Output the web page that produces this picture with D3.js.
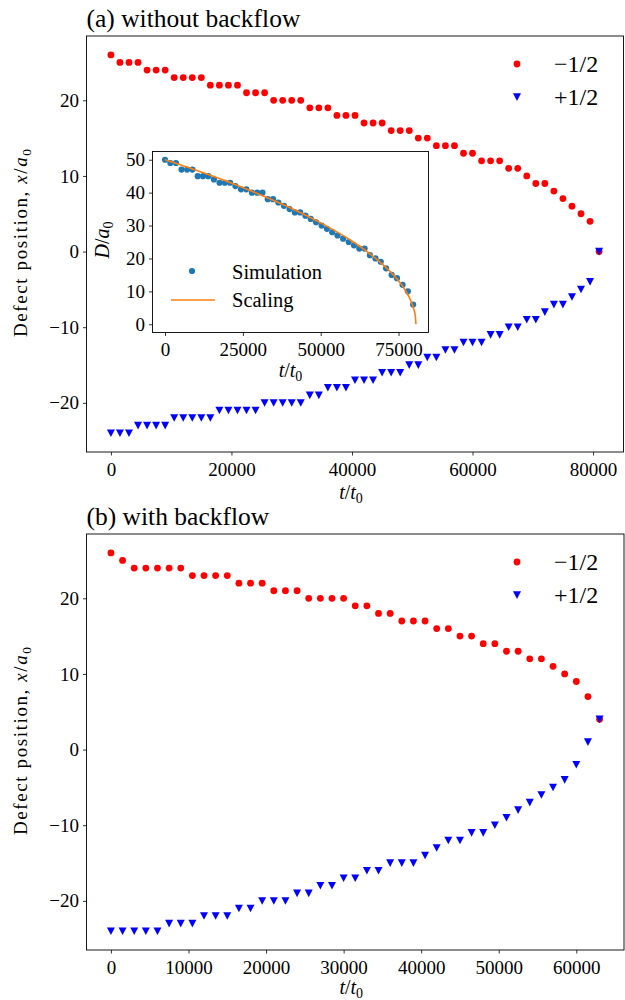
<!DOCTYPE html>
<html><head><meta charset="utf-8">
<script src="https://cdn.jsdelivr.net/npm/d3@7"></script>
<style>
body{margin:0;background:#fff;}
text{font-family:"Liberation Serif","DejaVu Serif",serif;fill:#000;}
</style>
</head><body>
<svg id="c" width="625" height="1000"></svg>
<script>
// ---------- data ----------
const timeA = [0,1500,3000,4500,6000,7500,9000,10500,12000,13500,15000,16500,18000,19500,21000,22500,24000,25500,27000,28500,30000,31500,33000,34500,36000,37500,39000,40500,42000,43500,45000,46500,48000,49500,51000,52500,54000,55500,57000,58500,60000,61500,63000,64500,66000,67500,69000,70500,72000,73500,75000,76500,78000,79500,81000];
const minusA = [26,25,25,25,24,24,24,23,23,23,23,22,22,22,22,21,21,21,20,20,20,20,19,19,19,18,18,18,17,17,17,16,16,16,15,15,14,14,14,13,13,12,12,12,11,11,10,9,9,8,7,6,5,4,0];
const plusA = [-24,-24,-24,-23,-23,-23,-23,-22,-22,-22,-22,-22,-21,-21,-21,-21,-21,-20,-20,-20,-20,-20,-19,-19,-18,-18,-18,-17,-17,-17,-16,-16,-16,-15,-15,-14,-14,-13,-13,-12,-12,-12,-11,-11,-10,-10,-9,-9,-8,-7,-7,-6,-5,-4,0];

const timeB = [0,1500,3000,4500,6000,7500,9000,10500,12000,13500,15000,16500,18000,19500,21000,22500,24000,25500,27000,28500,30000,31500,33000,34500,36000,37500,39000,40500,42000,43500,45000,46500,48000,49500,51000,52500,54000,55500,57000,58500,60000,61500,63000];
const minusB = [26,25,24,24,24,24,24,23,23,23,23,22,22,22,21,21,21,20,20,20,20,19,19,18,18,17,17,17,16,16,15,15,14,14,13,13,12,12,11,10,9,7,4];
const plusB = [-24,-24,-24,-24,-24,-23,-23,-23,-22,-22,-22,-21,-21,-20,-20,-20,-19,-19,-18,-18,-17,-17,-16,-16,-15,-15,-15,-14,-13,-12,-12,-11,-11,-10,-9,-8,-7,-6,-5,-4,-2,1,4];

const simTime = [0,1700,3500,5300,7100,8800,10500,12200,13900,15700,17500,19200,20900,22600,24400,26100,27900,29600,31300,33000,34700,36400,38200,40000,41700,43400,45100,46800,48500,50300,52000,53700,55400,57200,59000,60700,62400,64100,65800,67600,69300,71000,72800,74500,76300,78000,79700];
const simD = [50,49,49,47,47,47,45,45,45,44,43,43,43,42,41,41,40,40,40,38,38,37,36,35,34,34,33,32,31,30,29,28,27,26,25,24,23,23,21,20,19,17,15,14,12,10,6];
const scaleTime = [0,10000,20000,30000,40000,50000,60000,65000,70000,74000,77000,79000,80000,80400,80600];
const scaleD = [50,46.8,43.4,39.6,35.5,30.8,25.3,22.0,18.1,14.3,10.6,7.0,4.3,2.5,0];

const yTicks = [-20,-10,0,10,20];
const xTicksA = [0,20000,40000,60000,80000];
const xTicksB = [0,10000,20000,30000,40000,50000,60000];
const insetXTicks = [0,25000,50000,75000];
const insetYTicks = [0,10,20,30,40,50];
const legendLabels = ["\u22121/2","+1/2"];
const insetLegend = ["Simulation","Scaling"];

// ---------- drawing ----------
const svg = d3.select("#c");
const RED = "#ff0000", BLUE = "#0000ff", C0 = "#1f77b4", C1 = "#ff7f0e";
const TICKFS = 19;
const fmt = d3.format("d");

function tri(g, x, y, fill){
  g.append("path").attr("transform",`translate(${x},${y})`)
    .attr("d","M-4,-3.7L4,-3.7L0,3.9Z").attr("fill",fill);
}

function mathLabel(g, parts, x, y, size, rotate, len){
  const t = g.append("text").attr("x",x).attr("y",y).attr("text-anchor","middle")
    .attr("font-size",size);
  if (rotate) t.attr("transform",`rotate(-90,${x},${y})`);
  if (len) t.attr("textLength",len).attr("lengthAdjust","spacing");
  parts.forEach(p=>{
    const s = t.append("tspan").text(p.t);
    if (p.i) s.attr("font-style","italic");
    if (p.sub) s.attr("font-size",size*0.7).attr("dy",size*0.22);
  });
  return t;
}

function styleAxis(a){
  a.select(".domain").remove();
  a.selectAll("line").attr("stroke","#000").attr("stroke-width",0.8);
  a.selectAll("text").attr("font-size",TICKFS).attr("font-family","Liberation Serif");
}

function panel(opts){
  const g = svg.append("g");
  const x = d3.scaleLinear().domain(opts.xd).range(opts.xr);
  const y = d3.scaleLinear().domain([-26.5,28.5]).range(opts.yr);
  const xa = g.append("g").attr("transform",`translate(0,${opts.yr[0]})`)
    .call(d3.axisBottom(x).tickValues(opts.xt).tickFormat(fmt).tickSizeOuter(0).tickSize(3.5).tickPadding(3));
  const ya = g.append("g").attr("transform",`translate(${opts.xr[0]},0)`)
    .call(d3.axisLeft(y).tickValues(yTicks).tickFormat(d=>d<0?"\u2212"+Math.abs(d):d).tickSizeOuter(0).tickSize(3.5).tickPadding(4));
  styleAxis(xa); styleAxis(ya);
  xa.selectAll("text").attr("dy","0.9em");
  g.append("rect").attr("x",opts.xr[0]).attr("y",opts.yr[1])
    .attr("width",opts.xr[1]-opts.xr[0]).attr("height",opts.yr[0]-opts.yr[1])
    .attr("fill","none").attr("stroke","#000").attr("stroke-width",0.9);
  g.append("text").attr("x",opts.xr[0]).attr("y",opts.yr[1]-9).attr("font-size",25.5).text(opts.title);
  mathLabel(g,[{t:"t",i:1},{t:"/"},{t:"t",i:1},{t:"0",sub:1}],(opts.xr[0]+opts.xr[1])/2 - 4,opts.yr[0]+opts.xlo,20);
  mathLabel(g,[{t:"Defect position, "},{t:"x",i:1},{t:"/"},{t:"a",i:1},{t:"0",sub:1}],27,(opts.yr[0]+opts.yr[1])/2 - 1,19,true,188);
  const lg = g.append("g");
  lg.append("circle").attr("cx",517).attr("cy",opts.yr[1]+28).attr("r",3.4).attr("fill",RED);
  tri(lg,517,opts.yr[1]+61,BLUE);
  lg.append("text").attr("x",554).attr("y",opts.yr[1]+36).attr("font-size",24).text(legendLabels[0]);
  lg.append("text").attr("x",554).attr("y",opts.yr[1]+69).attr("font-size",24).text(legendLabels[1]);
  return {g,x,y};
}

function points(p, times, minus, plus){
  p.g.append("g").selectAll("circle").data(times).join("circle")
    .attr("cx",(d)=>p.x(d)).attr("cy",(d,i)=>p.y(minus[i])).attr("r",3.4).attr("fill",RED);
  const pg = p.g.append("g");
  times.forEach((t,i)=>tri(pg,p.x(t),p.y(plus[i]),BLUE));
}

// Panel (a)
const pa = panel({xd:[-4050,85050],xr:[86.5,623.5],yr:[452,36],xt:xTicksA,title:"(a) without backflow",xlo:47});
points(pa, timeA, minusA, plusA);

// Inset
(function(){
  const g = svg.append("g");
  const xr=[152.5,428.5], yr=[332.5,151.5];
  const x = d3.scaleLinear().domain([-4030,84630]).range(xr);
  const y = d3.scaleLinear().domain([-2.5,52.5]).range(yr);
  g.append("rect").attr("x",xr[0]).attr("y",yr[1]).attr("width",xr[1]-xr[0]).attr("height",yr[0]-yr[1]).attr("fill","#fff");
  const xa = g.append("g").attr("transform",`translate(0,${yr[0]})`)
    .call(d3.axisBottom(x).tickValues(insetXTicks).tickFormat(fmt).tickSizeOuter(0).tickSize(3.5).tickPadding(3));
  const ya = g.append("g").attr("transform",`translate(${xr[0]},0)`)
    .call(d3.axisLeft(y).tickValues(insetYTicks).tickFormat(fmt).tickSizeOuter(0).tickSize(3.5).tickPadding(4));
  styleAxis(xa); styleAxis(ya);
  xa.selectAll("text").attr("dy","0.9em");
  g.append("rect").attr("x",xr[0]).attr("y",yr[1]).attr("width",xr[1]-xr[0]).attr("height",yr[0]-yr[1])
    .attr("fill","none").attr("stroke","#000").attr("stroke-width",0.9);
  g.append("g").selectAll("circle").data(simTime).join("circle")
    .attr("cx",d=>x(d)).attr("cy",(d,i)=>y(simD[i])).attr("r",3.1).attr("fill",C0);
  const line = d3.line().x(d=>x(d[0])).y(d=>y(d[1])).curve(d3.curveMonotoneX);
  g.append("path").attr("d",line(scaleTime.map((t,i)=>[t,scaleD[i]])))
    .attr("fill","none").attr("stroke",C1).attr("stroke-width",1.6);
  g.append("circle").attr("cx",192).attr("cy",271).attr("r",3.1).attr("fill",C0);
  g.append("line").attr("x1",171).attr("x2",215).attr("y1",300).attr("y2",300).attr("stroke",C1).attr("stroke-width",1.6);
  g.append("text").attr("x",232).attr("y",279).attr("font-size",20.5).text(insetLegend[0]);
  g.append("text").attr("x",232).attr("y",307).attr("font-size",20.5).text(insetLegend[1]);
  mathLabel(g,[{t:"t",i:1},{t:"/"},{t:"t",i:1},{t:"0",sub:1}],(xr[0]+xr[1])/2,yr[0]+44,20);
  mathLabel(g,[{t:"D",i:1},{t:"/"},{t:"a",i:1},{t:"0",sub:1}],109,(yr[0]+yr[1])/2 - 2,20,true);
})();

// Panel (b)
const pb = panel({xd:[-3150,66150],xr:[86.5,624],yr:[950,534],xt:xTicksB,title:"(b) with backflow",xlo:44});
points(pb, timeB, minusB, plusB);
</script>
</body></html>
